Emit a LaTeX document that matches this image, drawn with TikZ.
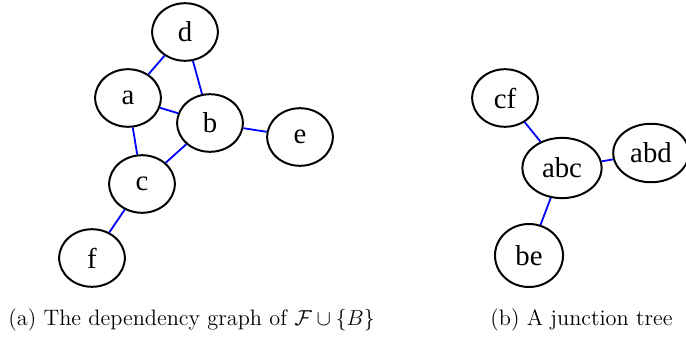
\documentclass[tikz,border=0pt]{standalone}
\usepackage{fontspec}
\usepackage{xcolor}
\usetikzlibrary{shapes.geometric}
\newfontfamily\labelfont{Liberation Serif}
\definecolor{ink}{HTML}{000000}
\definecolor{edgeblue}{HTML}{0000FF}
\tikzset{
  vertex/.style={draw=ink,ellipse,line width=1.1pt,inner sep=0pt,minimum width=36.5pt,minimum height=32pt,font=\labelfont\fontsize{16}{19}\selectfont},
  bigvertex/.style={vertex,minimum width=44pt,minimum height=33.5pt},
  link/.style={draw=edgeblue,line width=1pt},
  subcap/.style={anchor=base west,inner sep=0pt,font=\fontsize{12.4}{15}\selectfont,text=ink}
}

\begin{document}
\begin{tikzpicture}[x=0.5556pt,y=-0.5556pt]
    \useasboundingbox (0,0) rectangle (686,337);

    % (a) dependency graph
    \node[vertex] (d) at (185,32) {d};
    \node[vertex] (a) at (128,98) {a};
    \node[vertex] (b) at (210,123) {b};
    \node[vertex] (e) at (300,137) {e};
    \node[vertex] (c) at (142,184) {c};
    \node[vertex] (f) at (92,258) {f};
    \draw[link] (a) -- (d);
    \draw[link] (d) -- (b);
    \draw[link] (a) -- (b);
    \draw[link] (a) -- (c);
    \draw[link] (b) -- (c);
    \draw[link] (b) -- (e);
    \draw[link] (c) -- (f);

    % (b) junction tree
    \node[vertex] (cf) at (505,98) {cf};
    \node[bigvertex] (abc) at (562,168) {abc};
    \node[bigvertex,minimum width=42pt,minimum height=32.5pt] (abd) at (651,153) {abd};
    \node[vertex,minimum width=37.8pt,minimum height=35pt] (be) at (529,255.5) {be};
    \draw[link] (cf) -- (abc);
    \draw[link] (abc) -- (abd);
    \draw[link] (abc) -- (be);

    \node[subcap] (capa) at (8,325) {(a) The dependency graph of $\mathcal{F}\cup\{B\}$};
    \node[subcap] (capb) at (490,325) {(b) A junction tree};
  \end{tikzpicture}
\end{document}
